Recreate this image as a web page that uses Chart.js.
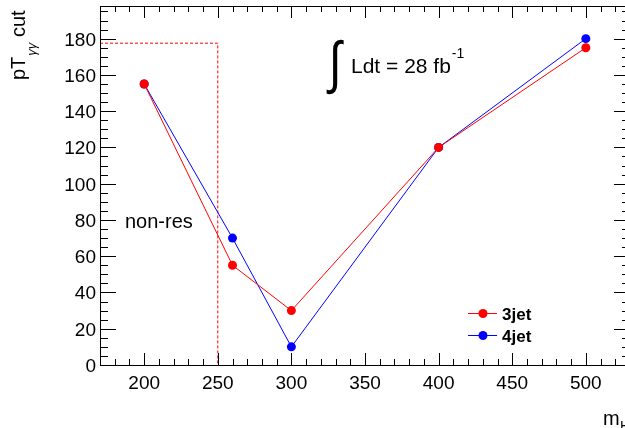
<!DOCTYPE html>
<html>
<head>
<meta charset="utf-8">
<script src="https://cdn.jsdelivr.net/npm/chart.js@4.4.1/dist/chart.umd.min.js"></script>
<style>
  html, body { margin: 0; padding: 0; background: #fff; overflow: hidden; }
  #wrap { position: relative; width: 640px; height: 428px; }
</style>
</head>
<body>
<div id="wrap"><canvas id="chart" width="640" height="428"></canvas></div>
<script>
// values
const massPoints = [200, 260, 300, 400, 500];
const cut3jet = [155, 55, 30, 120, 175];
const cut4jet = [155, 70, 10, 120, 180];
const seriesNames = ["3jet", "4jet"];
const seriesColors = ["#ff0000", "#0000ff"];

// non-resonant cut box (dashed)
const nonResMass = 250;
const nonResCut = 177.5;

const xTicks = [200, 250, 300, 350, 400, 450, 500];
const yTicks = [0, 20, 40, 60, 80, 100, 120, 140, 160, 180];
const xRange = [170, 530];
const yRange = [0, 198];

const FONT = "'Liberation Sans', Arial, Helvetica, sans-serif";

function pts(xs, ys) {
  return xs.map((x, i) => ({ x: x, y: ys[i] }));
}

/** ROOT-style frame: ticks inside on all four sides + labels */
const frameAxes = {
  id: "frameAxes",
  afterDraw(chart) {
    const { ctx, chartArea: a, scales } = chart;
    const sx = scales.x, sy = scales.y;
    ctx.save();
    ctx.strokeStyle = "#000";
    ctx.lineWidth = 1;
    ctx.beginPath();
    // x ticks (minor every 10, major every 50)
    for (let v = xRange[0]; v <= xRange[1]; v += 10) {
      const px = Math.round(sx.getPixelForValue(v)) + 0.5;
      const len = v % 50 === 0 ? 12 : 6;
      ctx.moveTo(px, a.bottom); ctx.lineTo(px, a.bottom - len);
      ctx.moveTo(px, a.top); ctx.lineTo(px, a.top + len);
    }
    // y ticks (minor every 5, major every 20)
    for (let v = yRange[0]; v <= yRange[1]; v += 5) {
      const py = Math.round(sy.getPixelForValue(v)) + 0.5;
      const len = v % 20 === 0 ? 16 : 8;
      ctx.moveTo(a.left, py); ctx.lineTo(a.left + len, py);
      ctx.moveTo(a.right, py); ctx.lineTo(a.right - len, py);
    }
    ctx.stroke();
    ctx.strokeRect(Math.round(a.left) + 0.5, Math.round(a.top) + 0.5,
      Math.round(a.right - a.left), Math.round(a.bottom - a.top));

    // tick labels
    ctx.fillStyle = "#000";
    ctx.font = "19px " + FONT;
    ctx.textAlign = "center";
    ctx.textBaseline = "alphabetic";
    xTicks.forEach((v) => {
      ctx.fillText(String(v), sx.getPixelForValue(v), a.bottom + 24);
    });
    ctx.textAlign = "right";
    yTicks.forEach((v) => {
      ctx.fillText(String(v), a.left - 4, sy.getPixelForValue(v) + 7);
    });

    // x title: m_H
    ctx.textAlign = "left";
    ctx.font = "20px " + FONT;
    ctx.fillText("m", 603, 425);
    ctx.font = "14px " + FONT;
    ctx.fillText("H", 620, 431);

    // y title: pT_γγ cut (rotated)
    ctx.save();
    ctx.translate(25, 80);
    ctx.rotate(-Math.PI / 2);
    ctx.textAlign = "left";
    ctx.font = "20px " + FONT;
    ctx.fillText("pT", 0, 0);
    let w = ctx.measureText("pT").width;
    ctx.font = "italic 13px " + FONT;
    ctx.fillText("\u03b3\u03b3", w + 1, 11);
    w += ctx.measureText("\u03b3\u03b3").width + 1;
    ctx.font = "20px " + FONT;
    ctx.fillText(" cut", w, 0);
    ctx.restore();

    // luminosity label: thin, tall integral sign
    ctx.save();
    ctx.translate(329, 82);
    ctx.scale(1, 1.25);
    ctx.font = "200 46px 'DejaVu Sans', sans-serif";
    ctx.fillText("\u222b", 0, 0);
    ctx.restore();
    ctx.font = "21px " + FONT;
    ctx.fillText("Ldt = 28 fb", 351, 73);
    const lw = ctx.measureText("Ldt = 28 fb").width;
    ctx.font = "14px " + FONT;
    ctx.fillText("-1", 351 + lw + 1, 58);

    // non-res label
    ctx.font = "20px " + FONT;
    ctx.fillText("non-res", 125, 228);

    // legend
    seriesNames.forEach((name, i) => {
      const ly = 313 + i * 22;
      ctx.strokeStyle = seriesColors[i];
      ctx.fillStyle = seriesColors[i];
      ctx.beginPath();
      ctx.moveTo(468, ly + 0.5); ctx.lineTo(497, ly + 0.5);
      ctx.stroke();
      ctx.beginPath();
      ctx.arc(483, ly + 0.5, 4.5, 0, Math.PI * 2);
      ctx.fill();
      ctx.fillStyle = "#000";
      ctx.font = "bold 17px " + FONT;
      ctx.fillText(name, 502, ly + 7);
    });
    ctx.restore();
  },
};

const ctx = document.getElementById("chart").getContext("2d");
new Chart(ctx, {
  type: "scatter",
  data: {
    datasets: [
      {
        label: seriesNames[0],
        data: pts(massPoints, cut3jet),
        showLine: true,
        borderColor: seriesColors[0],
        backgroundColor: seriesColors[0],
        borderWidth: 1,
        pointRadius: 4.5,
        pointBorderWidth: 0,
      },
      {
        label: seriesNames[1],
        data: pts(massPoints, cut4jet),
        showLine: true,
        borderColor: seriesColors[1],
        backgroundColor: seriesColors[1],
        borderWidth: 1,
        pointRadius: 4.5,
        pointBorderWidth: 0,
      },
      {
        label: "non-res",
        data: [
          { x: xRange[0], y: nonResCut },
          { x: nonResMass, y: nonResCut },
          { x: nonResMass, y: 0 },
        ],
        showLine: true,
        borderColor: "#ff0000",
        borderWidth: 1,
        borderDash: [3, 2],
        pointRadius: 0,
      },
    ],
  },
  options: {
    responsive: false,
    animation: false,
    layout: { padding: { left: 100, top: 6, right: 10, bottom: 63 } },
    scales: {
      x: { type: "linear", min: xRange[0], max: xRange[1], display: false },
      y: { type: "linear", min: yRange[0], max: yRange[1], display: false },
    },
    plugins: {
      legend: { display: false },
      tooltip: { enabled: false },
    },
  },
  plugins: [frameAxes],
});
</script>
</body>
</html>
